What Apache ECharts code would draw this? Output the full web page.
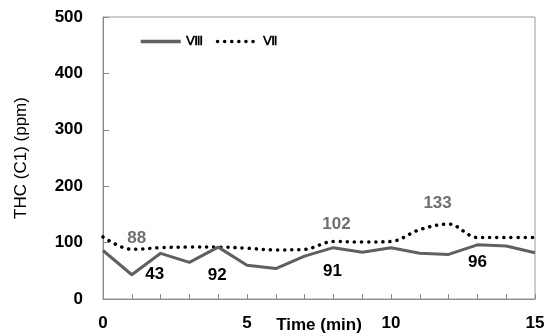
<!DOCTYPE html>
<html>
<head>
<meta charset="utf-8">
<script src="https://cdn.jsdelivr.net/npm/echarts@6/dist/echarts.min.js"></script>
<style>
  html, body { margin: 0; padding: 0; background: #fff; }
  #chart { width: 553px; height: 336px; }
</style>
</head>
<body>
<div id="chart"></div>
<script>
// Total hydrocarbon concentration over a 15-minute run, two test conditions
const minutes = [0, 1, 2, 3, 4, 5, 6, 7, 8, 9, 10, 11, 12, 13, 14, 15];
const seriesVIII = [86, 43, 81, 65, 92, 60, 54, 76, 91, 83, 91, 81, 79, 96, 94, 82];
const seriesVII = [110, 88, 91, 92, 92, 90, 87, 88, 102, 101, 102, 123, 133, 109, 109, 109];
const xTickLabels = [0, 5, 10, 15];
const yTickLabels = [0, 100, 200, 300, 400, 500];

// Indices whose values are printed next to the points, with label offsets
const labelsVIII = { 1: [23, 0], 4: [-1, 28], 8: [-1, 24], 13: [0, 17] };
const labelsVII = { 1: [5, -11], 8: [3, -17], 12: [-11, -21] };

const FONT = 'Arial, "Liberation Sans", sans-serif';

function buildData(values, labelMap, color) {
  return values.map((v, i) => {
    const item = { value: [minutes[i], v] };
    if (labelMap[i]) {
      item.label = {
        show: true,
        position: 'inside',
        offset: labelMap[i],
        formatter: String(v),
        color: color,
        fontFamily: FONT,
        fontWeight: 'bold',
        fontSize: 17
      };
    }
    return item;
  });
}

const chart = echarts.init(document.getElementById('chart'), null, { renderer: 'canvas' });

chart.setOption({
  animation: false,
  backgroundColor: '#ffffff',
  grid: {
    left: 103, right: 18, top: 17, bottom: 37,
    containLabel: false, outerBoundsMode: 'none',
    show: true, borderColor: '#9a9a9a', borderWidth: 1, backgroundColor: 'transparent'
  },
  legend: {
    left: 134, top: 30,
    itemWidth: 40, itemHeight: 14, itemGap: 13,
    itemStyle: { opacity: 0 },
    lineStyle: { width: 3.5 },
    textStyle: { fontFamily: FONT, fontWeight: 'bold', fontSize: 13, color: '#000' },
    data: ['Ⅷ', 'Ⅶ']
  },
  xAxis: {
    type: 'value', min: 0, max: 15, interval: 1,
    name: 'Time (min)', nameLocation: 'middle', nameGap: 18, nameMoveOverlap: false,
    nameTextStyle: { fontFamily: FONT, fontWeight: 'bold', fontSize: 17, color: '#000', verticalAlign: 'top' },
    axisLine: { lineStyle: { color: '#8c8c8c', width: 1 } },
    axisTick: { inside: true, length: 5, lineStyle: { color: '#8c8c8c' } },
    splitLine: { show: false },
    axisLabel: {
      margin: 16, fontFamily: FONT, fontWeight: 'bold', fontSize: 17, color: '#000',
      formatter: v => xTickLabels.includes(v) ? String(v) : ''
    }
  },
  yAxis: {
    type: 'value', min: 0, max: 500, interval: 100,
    name: 'THC (C1) (ppm)', nameLocation: 'middle', nameGap: 73, nameRotate: 90, nameMoveOverlap: false,
    nameTextStyle: { fontFamily: FONT, fontSize: 17, color: '#000' },
    axisLine: { show: true, lineStyle: { color: '#8c8c8c', width: 1 } },
    axisTick: { show: true, inside: true, length: 6, lineStyle: { color: '#8c8c8c' } },
    splitLine: { show: false },
    axisLabel: {
      margin: 20, fontFamily: FONT, fontWeight: 'bold', fontSize: 17, color: '#000',
      formatter: v => yTickLabels.includes(v) ? String(v) : ''
    }
  },
  series: [
    {
      name: 'Ⅷ', type: 'line', symbol: 'circle', symbolSize: 0, showSymbol: true,
      lineStyle: { color: '#606060', width: 3 },
      itemStyle: { color: '#606060' },
      data: buildData(seriesVIII, labelsVIII, '#000000'),
      z: 3
    },
    {
      name: 'Ⅶ', type: 'line', symbol: 'circle', symbolSize: 0, showSymbol: true, smooth: 0.35,
      lineStyle: { color: '#000000', width: 3.5, type: [0.1, 7], cap: 'round' },
      itemStyle: { color: '#000000' },
      data: buildData(seriesVII, labelsVII, '#707070'),
      z: 2
    }
  ]
});
</script>
</body>
</html>
